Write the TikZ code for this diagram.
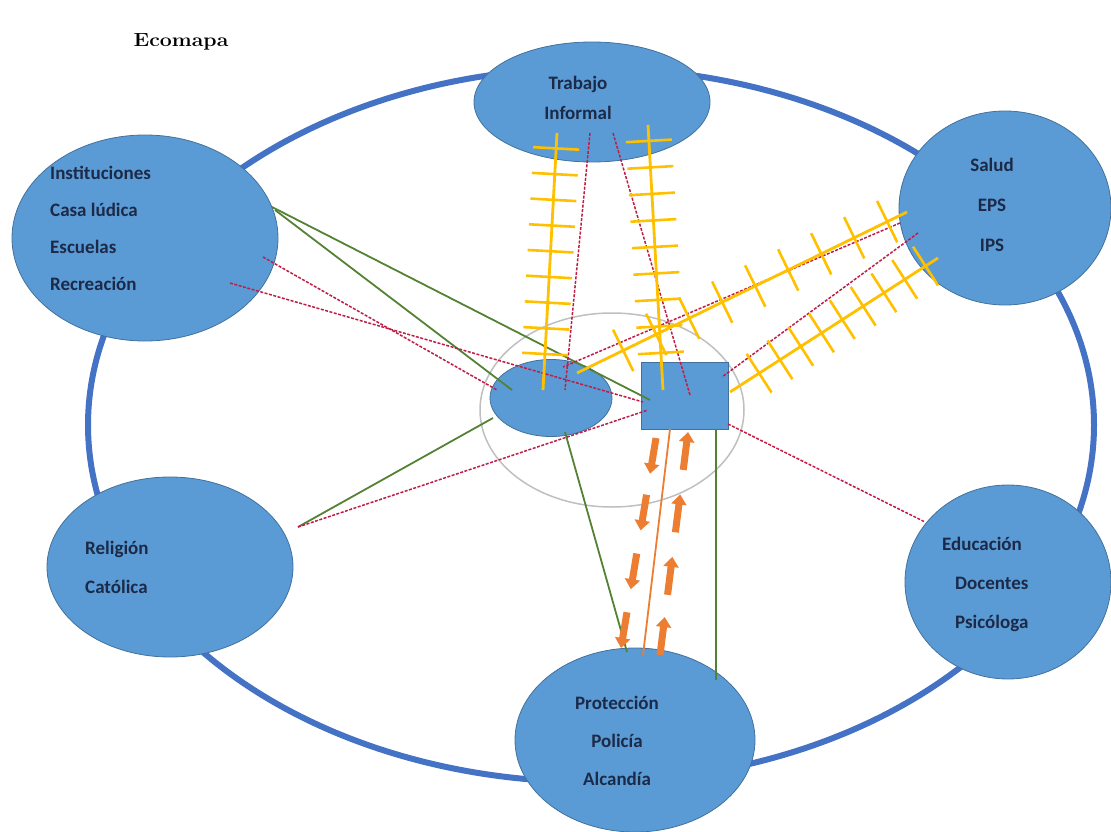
\documentclass[tikz,border=0pt]{standalone}
\usepackage{fontspec}
\newfontfamily\carlito{Carlito}
\usetikzlibrary{shapes.geometric,arrows.meta,calc,decorations.markings}

\definecolor{azulnodo}{RGB}{91,155,213}
\definecolor{bordenodo}{RGB}{65,113,156}
\definecolor{anillo}{RGB}{68,114,196}
\definecolor{gris}{RGB}{191,191,191}
\definecolor{verde}{RGB}{84,130,53}
\definecolor{rojo}{RGB}{190,30,70}
\definecolor{amarillo}{RGB}{255,192,0}
\definecolor{naranja}{RGB}{237,125,49}
\definecolor{textoazul}{RGB}{28,42,72}

\tikzset{
  circulo/.style={shape=ellipse, draw=bordenodo, fill=azulnodo, line width=0.8pt, inner sep=0pt},
  texto/.style={text=textoazul, font=\carlito\bfseries\fontsize{19}{#1}\selectfont, inner sep=0pt},
  fuerte/.style={draw=verde, line width=1.8pt},
  tenue/.style={draw=rojo, line width=1.5pt, dash pattern=on 3pt off 1.5pt},
  estresante/.style={draw=amarillo, line width=2.8pt, postaction={decorate},
    decoration={markings, mark=between positions 0.06 and 0.92 step 0.1 with {\draw[amarillo, line width=2.6pt] (0pt,-23pt) -- (0pt,23pt);}}},
  flujo/.style={draw=naranja, line width=1.8pt},
  flecha/.style={draw=naranja, line width=7pt, -{Triangle[width=15pt,length=10pt]}}
}

\begin{document}
\begin{tikzpicture}[x=1pt,y=1pt]
  \useasboundingbox (0,0) rectangle (1111,-832);

  % anillo exterior
  \draw[anillo, line width=6pt] (591,-425) ellipse [x radius=503, y radius=357];

  % vertices
  \node[shape=ellipse, draw=gris, line width=1.5pt, minimum width=264, minimum height=194] (hogar) at (612,-410) {};
  \node[circulo, minimum width=236, minimum height=120] (trabajo) at (592,-102) {};
  \node[circulo, minimum width=266, minimum height=206] (inst) at (145,-238) {};
  \node[circulo, minimum width=212, minimum height=194] (salud) at (1005,-208) {};
  \node[circulo, minimum width=246, minimum height=180] (religion) at (170,-567) {};
  \node[circulo, minimum width=206, minimum height=194] (educ) at (1008,-582) {};
  \node[circulo, minimum width=240, minimum height=184] (prot) at (635,-740) {};
  \node[circulo, minimum width=122, minimum height=77] (fam) at (551,-398) {};
  \node[shape=rectangle, draw=bordenodo, fill=azulnodo, line width=0.8pt, minimum width=87, minimum height=67] (ego) at (684.5,-395.5) {};

  % textos
  \node[font=\bfseries\fontsize{19}{21}\selectfont] (titulo) at (181,-42) {\scalebox{1.12}[1]{Ecomapa}};
  \node[texto=30, align=center] (trabajoTxt) at (578,-98) {Trabajo\\Informal};
  \node[texto=37, align=left, anchor=west] (instTxt) at (50,-228) {Instituciones\\Casa lúdica\\Escuelas\\Recreación};
  \node[texto=40, align=center] (saludTxt) at (992,-205) {Salud\\EPS\\IPS};
  \node[texto=39, align=left, anchor=west] (religionTxt) at (85,-567) {Religión\\Católica};
  \node[texto=39, align=left, anchor=west] (educTxt) at (942,-584) {Educación\\\hspace*{13pt}Docentes\\\hspace*{13pt}Psicóloga};
  \node[texto=38, align=center] (protTxt) at (617,-741) {Protección\\Policía\\Alcandía};

  % relaciones fuertes
  \path ([shift={(127,31)}]inst.center) edge[fuerte] ([shift={(-34.5,-4.5)}]ego.center);
  \path ([shift={(130,28)}]inst.center) edge[fuerte] ([shift={(-39,8)}]fam.center);
  \path ([shift={(128,40)}]religion.center) edge[fuerte] ([shift={(-58,-20)}]fam.center);
  \path ([shift={(14,-34)}]fam.center) edge[fuerte] ([shift={(-8,88)}]prot.center);
  \path ([shift={(31.5,-33.5)}]ego.center) edge[fuerte] ([shift={(81,60)}]prot.center);

  % relaciones debiles
  \path ([shift={(118,-19)}]inst.center) edge[tenue] ([shift={(-54,8)}]fam.center);
  \path ([shift={(85,-45)}]inst.center) edge[tenue] ([shift={(-41.5,-6.5)}]ego.center);
  \path ([shift={(128,40)}]religion.center) edge[tenue] ([shift={(-36.5,-14.5)}]ego.center);
  \path ([shift={(-2,-31)}]trabajo.center) edge[tenue] ([shift={(14,8)}]fam.center);
  \path ([shift={(21,-31)}]trabajo.center) edge[tenue] ([shift={(5.5,0.5)}]ego.center);
  \path ([shift={(-105,-15)}]salud.center) edge[tenue] ([shift={(12,31)}]fam.center);
  \path ([shift={(-87,-25)}]salud.center) edge[tenue] ([shift={(37.5,18.5)}]ego.center);
  \path ([shift={(43.5,-28.5)}]ego.center) edge[tenue] ([shift={(-83,60)}]educ.center);

  % relaciones estresantes
  \path ([shift={(-35,-31)}]trabajo.center) edge[estresante] ([shift={(-8,8)}]fam.center);
  \path ([shift={(56,-23)}]trabajo.center) edge[estresante] ([shift={(-21.5,5.5)}]ego.center);
  \path ([shift={(-98,-4)}]salud.center) edge[estresante] ([shift={(26,25)}]fam.center);
  \path ([shift={(-67,-50)}]salud.center) edge[estresante] ([shift={(45.5,3.5)}]ego.center);

  % flujo de energia
  \path ([shift={(-14.5,-33.5)}]ego.center) edge[flujo] ([shift={(8,85)}]prot.center);
  \coordinate (bajaA) at ([shift={(-28.5,-42.5)}]ego.center);
  \coordinate (bajaB) at ([shift={(-14,92)}]prot.center);
  \coordinate (subeA) at ([shift={(25,85)}]prot.center);
  \coordinate (subeB) at ([shift={(3.5,-36.5)}]ego.center);
  \foreach \a in {0,0.27,0.55,0.83}{
    \draw[flecha] ($(bajaA)!\a!(bajaB)$) -- ($(bajaA)!\a+0.17!(bajaB)$);
    \draw[flecha] ($(subeA)!\a!(subeB)$) -- ($(subeA)!\a+0.17!(subeB)$);
  }
\end{tikzpicture}
\end{document}
